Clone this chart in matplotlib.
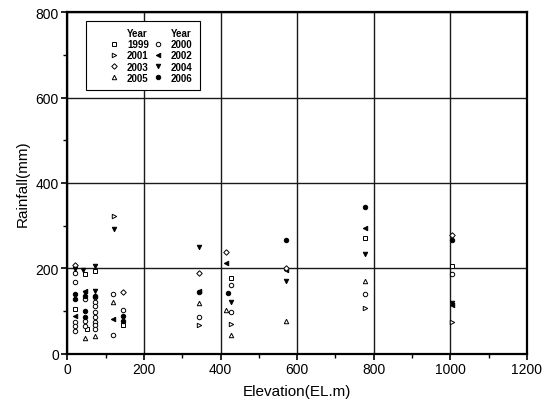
import matplotlib
matplotlib.use("Agg")
import matplotlib.pyplot as plt
from matplotlib.lines import Line2D
from matplotlib.ticker import MultipleLocator

plt.rcParams['font.family'] = ['Liberation Sans', 'DejaVu Sans']

years = ['1999', '2000', '2001', '2002', '2003', '2004', '2005', '2006']

x1999 = [20, 47, 52, 72, 145, 428, 778, 1005]
y1999 = [105, 186, 58, 194, 67, 178, 270, 205]

x2000 = [20, 20, 20, 20, 20, 47, 47, 47, 72, 72, 72, 72, 72, 72, 72, 72, 118, 118, 145, 345, 428, 428, 778, 1005]
y2000 = [189, 168, 75, 64, 54, 128, 77, 65, 132, 120, 111, 97, 85, 75, 67, 58, 140, 44, 101, 85, 160, 98, 140, 186]

x2001 = [122, 345, 428, 778, 1005]
y2001 = [322, 68, 69, 108, 74]

x2002 = [20, 47, 118, 345, 415, 571, 778, 1005]
y2002 = [89, 146, 82, 146, 212, 196, 294, 115]

x2003 = [20, 145, 345, 415, 571, 1005]
y2003 = [207, 145, 190, 237, 200, 279]

x2004 = [20, 40, 72, 72, 47, 122, 345, 428, 571, 778, 1005]
y2004 = [198, 197, 206, 147, 142, 293, 249, 122, 169, 233, 119]

x2005 = [47, 72, 118, 345, 415, 428, 571, 778]
y2005 = [36, 41, 120, 118, 101, 43, 77, 171]

x2006 = [20, 20, 47, 47, 47, 72, 145, 145, 345, 420, 571, 778, 1005]
y2006 = [140, 128, 135, 100, 85, 135, 88, 77, 144, 143, 267, 343, 266]

series = [
    ('1999', x1999, y1999, 's', 'white'),
    ('2000', x2000, y2000, 'o', 'white'),
    ('2001', x2001, y2001, '>', 'white'),
    ('2002', x2002, y2002, '<', 'black'),
    ('2003', x2003, y2003, 'D', 'white'),
    ('2004', x2004, y2004, 'v', 'black'),
    ('2005', x2005, y2005, '^', 'white'),
    ('2006', x2006, y2006, 'o', 'black'),
]

fig = plt.figure(figsize=(5.43, 4.14), dpi=100)
ax = fig.add_axes([0.124, 0.1435, 0.8465, 0.8245])

handles = {}
for name, xs, ys, mk, fc in series:
    ms = 3.2 if mk != 'D' else 2.8
    h, = ax.plot(xs, ys, linestyle='none', marker=mk, markersize=ms,
                 markerfacecolor=fc, markeredgecolor='black', markeredgewidth=0.7,
                 label=name, zorder=3)
    handles[name] = h

ax.set_xlim(0, 1200)
ax.set_ylim(0, 800)
ax.xaxis.set_major_locator(MultipleLocator(200))
ax.xaxis.set_minor_locator(MultipleLocator(100))
ax.yaxis.set_major_locator(MultipleLocator(200))
ax.yaxis.set_minor_locator(MultipleLocator(100))
ax.grid(True, which='major', color='#1a1a1a', linewidth=1.0, zorder=1)
ax.tick_params(which='major', direction='out', length=4, width=1.2, labelsize=10, pad=2)
ax.tick_params(which='minor', direction='out', length=3, width=1.0)
for sp in ax.spines.values():
    sp.set_linewidth(1.6)
    sp.set_color('black')

ax.set_xlabel('Elevation(EL.m)', fontsize=11, labelpad=6)
ax.set_ylabel('Rainfall(mm)', fontsize=11, labelpad=4)

blank = Line2D([], [], linestyle='none', marker=None)
order_handles = [blank, handles['1999'], handles['2001'], handles['2003'], handles['2005'],
                 blank, handles['2000'], handles['2002'], handles['2004'], handles['2006']]
order_labels = ['Year', '1999', '2001', '2003', '2005',
                'Year', '2000', '2002', '2004', '2006']
leg = ax.legend(order_handles, order_labels, ncol=2, loc='upper left',
                bbox_to_anchor=(0.041, 0.975), borderaxespad=0.0,
                frameon=True, fancybox=False,
                edgecolor='black', framealpha=1, borderpad=0.75,
                prop={'size': 7, 'weight': 'bold'}, handlelength=4.2,
                handletextpad=-0.75, columnspacing=-1.2, labelspacing=0.12,
                markerscale=1.0)
leg.get_frame().set_linewidth(0.8)
leg.set_zorder(5)

fig.savefig('out.png', dpi=100)
